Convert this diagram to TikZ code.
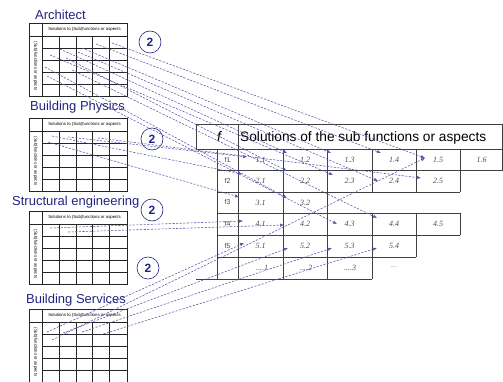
\documentclass[tikz,border=0pt]{standalone}
\usepackage{fontspec}
\setmainfont{Liberation Sans}
\newfontfamily\cellserif{Liberation Serif}
\usetikzlibrary{arrows.meta}
\definecolor{navy}{RGB}{35,35,130}
\definecolor{dashc}{RGB}{85,85,170}
\begin{document}
\begin{tikzpicture}[x=1pt,y=-1pt,
  tabline/.style={draw=black!85,line width=0.6pt},
  bigline/.style={draw=black!75,line width=0.8pt},
  conn/.style={draw=dashc,line width=0.55pt,dash pattern=on 2.2pt off 1.4pt,-{Latex[length=4pt,width=3.4pt]}},
  title/.style={font=\fontsize{13}{15}\selectfont,text=navy,inner sep=0pt,anchor=base west},
  badge/.style={circle,draw=navy,line width=0.6pt,minimum size=22pt,inner sep=0pt,text=navy,font=\fontsize{12}{14}\selectfont\bfseries},
  celltxt/.style={font=\fontsize{8}{9}\selectfont\cellserif\itshape,text=black!70},
  rowtxt/.style={font=\fontsize{7}{8}\selectfont,text=black!70},
  tinytxt/.style={font=\fontsize{4.3}{5}\selectfont,inner sep=0pt},
  mtable/.pic={
    \draw[tabline] (0,0) rectangle (98,73);
    \draw[tabline] (0,13) -- (98,13);
    \draw[tabline] (13,0) -- (13,73);
    \foreach \xx in {30.5,47,63.5,80.5} \draw[tabline] (\xx,13) -- (\xx,73);
    \foreach \yy in {25,37,49,61} \draw[tabline] (13,\yy) -- (98,\yy);
    \node[tinytxt] (-hdr) at (55.5,6.8) {Solutions to (Sub)functions or aspects};
    \node[tinytxt,rotate=-90] (-side) at (6.5,43) {(Sub)functions or aspects};
  }
]
\useasboundingbox (0,0) rectangle (503,382);

% titles
\node[title] (tarch) at (35,19.5) {Architect};
\node[title] (tphys) at (30,111) {Building Physics};
\node[title] (tstruct) at (12,205) {Structural engineering};
\node[title] (tserv) at (26,303) {Building Services};

% small tables
\pic (arch) at (29,23) {mtable};
\pic (phys) at (29,118) {mtable};
\pic (struct) at (29,211) {mtable};
\pic (serv) at (29,309) {mtable};

% badges
\node[badge] (b1) at (150,42) {2};
\node[badge] (b2) at (152,139) {2};
\node[badge] (b3) at (152,210) {2};
\node[badge] (b4) at (148,268) {2};

% big table
\draw[bigline] (196,124) rectangle (502.5,149);
\draw[bigline] (238,124) -- (238,149);
\node[font=\fontsize{14}{16}\selectfont\itshape,inner sep=0pt,anchor=base] (fsym) at (219,142) {f};
\node[font=\fontsize{13.7}{16}\selectfont,inner sep=0pt,anchor=base west] (head) at (240,142) {Solutions of the sub functions or aspects};

\draw[bigline] (217,170) -- (502.5,170);
\draw[bigline] (217,192) -- (460,192);
\draw[bigline] (217,213) -- (460,213);
\draw[bigline] (217,235) -- (460,235);
\draw[bigline] (217,257) -- (416,257);
\draw[bigline] (196,279) -- (372,279);
\foreach \xx in {217,238,283,327} \draw[bigline] (\xx,149) -- (\xx,279);
\draw[bigline] (372,149) -- (372,192) (372,213) -- (372,279);
\draw[bigline] (416,149) -- (416,192) (416,213) -- (416,257);
\draw[bigline] (460,149) -- (460,192) (460,213) -- (460,235);
\draw[bigline] (502.5,149) -- (502.5,170);

% row labels
\node[rowtxt] (f1) at (227.5,159.5) {f1};
\node[rowtxt] (f2) at (227.5,181) {f2};
\node[rowtxt] (f3) at (227.5,202.5) {f3};
\node[rowtxt] (f4) at (227.5,224) {f4};
\node[rowtxt] (f5) at (227.5,246) {f5};

% cell labels
\node[celltxt] (c11) at (260.5,159.5) {1.1};
\node[celltxt] (c12) at (305,159.5) {1.2};
\node[celltxt] (c13) at (349.5,159.5) {1.3};
\node[celltxt] (c14) at (394,159.5) {1.4};
\node[celltxt] (c15) at (438,159.5) {1.5};
\node[celltxt] (c16) at (481.5,159.5) {1.6};
\node[celltxt] (c21) at (260.5,181) {2.1};
\node[celltxt] (c22) at (305,181) {2.2};
\node[celltxt] (c23) at (349.5,181) {2.3};
\node[celltxt] (c24) at (394,181) {2.4};
\node[celltxt] (c25) at (438,181) {2.5};
\node[celltxt] (c31) at (260.5,202.5) {3.1};
\node[celltxt] (c32) at (305,202.5) {3.2};
\node[celltxt] (c41) at (260.5,224) {4.1};
\node[celltxt] (c42) at (305,224) {4.2};
\node[celltxt] (c43) at (349.5,224) {4.3};
\node[celltxt] (c44) at (394,224) {4.4};
\node[celltxt] (c45) at (438,224) {4.5};
\node[celltxt] (c51) at (260.5,246) {5.1};
\node[celltxt] (c52) at (305,246) {5.2};
\node[celltxt] (c53) at (349.5,246) {5.3};
\node[celltxt] (c54) at (394,246) {5.4};
\node[celltxt] (c61) at (262,268) {....1};
\node[celltxt] (c62) at (306,268) {....2};
\node[celltxt] (c63) at (350,268) {....3};
\node[celltxt,text=black!45] (c64) at (394,267) {...};

% arrow end points
\coordinate (e11) at (247,157);
\coordinate (e12) at (287,153);
\coordinate (e13) at (331,153);
\coordinate (e14) at (381,153);
\coordinate (e15) at (425,158);
\coordinate (e21) at (242,174);
\coordinate (e22) at (287,171);
\coordinate (e23) at (333,175);
\coordinate (e24) at (378,181);
\coordinate (e25) at (421,178);
\coordinate (e31) at (239,197);
\coordinate (e32) at (287,198);
\coordinate (e41) at (243,221);
\coordinate (e42) at (284,225);
\coordinate (e43) at (337,224);
\coordinate (e44) at (377,218);
\coordinate (e51) at (244,243);
\coordinate (e52) at (288,248);
\coordinate (e53) at (332,248);
\coordinate (e54) at (377,248);

% start points
\coordinate (a1) at (112,43);
\coordinate (a2) at (96,44);
\coordinate (a3) at (82,48);
\coordinate (a4) at (60,49);
\coordinate (a5) at (50,55);
\coordinate (a6) at (66,58);
\coordinate (a7) at (78,52);
\coordinate (a8) at (45,67);
\coordinate (a9) at (47,76);
\coordinate (a10) at (72,70);
\coordinate (p1) at (68,137);
\coordinate (p2) at (52,136);
\coordinate (p3) at (48,142);
\coordinate (p4) at (98,138);
\coordinate (s1) at (50,228);
\coordinate (s2) at (68,232);
\coordinate (v1) at (52,340);
\coordinate (v2) at (47,332);
\coordinate (v3) at (63,333);
\coordinate (v4) at (82,332);
\coordinate (v5) at (100,335);

% connectors
\draw[conn] (a1) -- (e15);
\draw[conn] (a2) -- (e14);
\draw[conn] (a3) -- (e13);
\draw[conn] (a4) -- (e12);
\draw[conn] (a5) -- (e23);
\draw[conn] (a6) -- (e22);
\draw[conn] (a7) -- (e24);
\draw[conn] (a8) -- (e32);
\draw[conn] (a9) -- (e43);
\draw[conn] (a10) -- (e44);
\draw[conn] (p1) -- (e11);
\draw[conn] (p2) -- (e21);
\draw[conn] (p3) -- (e31);
\draw[conn] (p4) -- (e25);
\draw[conn] (s1) -- (e41);
\draw[conn] (s2) -- (e42);
\draw[conn] (v1) -- (e15);
\draw[conn] (v2) -- (e51);
\draw[conn] (v3) -- (e52);
\draw[conn] (v4) -- (e53);
\draw[conn] (v5) -- (e54);
\end{tikzpicture}
\end{document}
